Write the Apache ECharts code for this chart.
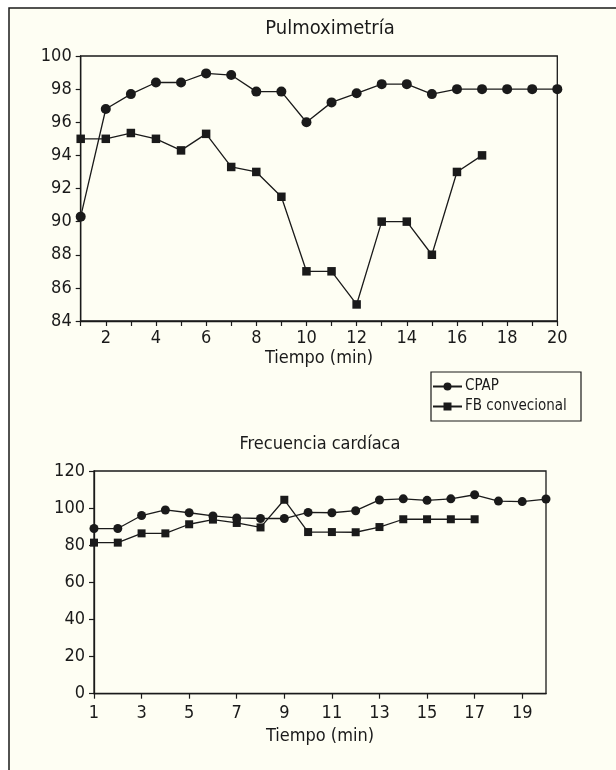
<!DOCTYPE html>
<html>
<head>
<meta charset="utf-8">
<script src="https://cdn.jsdelivr.net/npm/echarts@6/dist/echarts.min.js"></script>
<style>
html,body{margin:0;padding:0;background:#ffffff;}
#chart{width:616px;height:770px;}
</style>
</head>
<body>
<div id="chart"></div>
<script>
// ---- data ----
var minutes = ['1','2','3','4','5','6','7','8','9','10','11','12','13','14','15','16','17','18','19','20'];
var spo2CPAP = [90.3, 96.8, 97.7, 98.4, 98.4, 98.95, 98.85, 97.85, 97.85, 96.0, 97.2, 97.75, 98.3, 98.3, 97.7, 98.0, 98.0, 98.0, 98.0, 98.0];
var spo2FB = [95.0, 95.0, 95.35, 95.0, 94.3, 95.3, 93.3, 93.0, 91.5, 87.0, 87.0, 85.0, 90.0, 90.0, 88.0, 93.0, 94.0, null, null, null];
var hrCPAP = [89, 89, 96, 99, 97.5, 95.8, 94.7, 94.4, 94.4, 97.7, 97.5, 98.6, 104.4, 105, 104.2, 105, 107.2, 103.8, 103.5, 104.9];
var hrFB = [81.4, 81.4, 86.4, 86.4, 91.3, 93.8, 92, 89.6, 104.5, 87.1, 87.1, 87, 89.8, 94, 94, 94, 94, null, null, null];
var seriesNames = ['CPAP', 'FB convecional'];
var titles = ['Pulmoximetría', 'Frecuencia cardíaca'];
var axisName = 'Tiempo (min)';

var FONT = '"Liberation Sans Narrow", "DejaVu Sans Condensed", "Liberation Sans", sans-serif';
var INK = '#1a1a1a';
var BG = '#fefef3';

var chart = echarts.init(document.getElementById('chart'), null, {renderer: 'canvas'});

function xAxisCfg(gridIndex, tickFn, labelFn, labelMargin, nameGap) {
  return {
    type: 'category', gridIndex: gridIndex, data: minutes, boundaryGap: false,
    name: axisName, nameLocation: 'middle', nameGap: nameGap,
    nameTextStyle: {fontFamily: FONT, fontSize: 18, color: INK},
    axisLine: {lineStyle: {color: INK, width: 1.3}},
    axisTick: {show: true, inside: false, length: 5, interval: tickFn, lineStyle: {color: INK, width: 1.2}},
    axisLabel: {interval: labelFn, margin: labelMargin, fontFamily: FONT, fontSize: 18, color: INK},
    splitLine: {show: false}
  };
}
function yAxisCfg(gridIndex, min, max, interval) {
  return {
    type: 'value', gridIndex: gridIndex, min: min, max: max, interval: interval,
    axisLine: {show: true, lineStyle: {color: INK, width: 1.3}},
    axisTick: {show: true, inside: false, length: 5, lineStyle: {color: INK, width: 1.2}},
    axisLabel: {margin: 9, fontFamily: FONT, fontSize: 18, color: INK},
    splitLine: {show: false}
  };
}
function lineSeries(name, data, xi, yi, symbol, size) {
  return {
    name: name, type: 'line', xAxisIndex: xi, yAxisIndex: yi, data: data,
    symbol: symbol, symbolSize: size, connectNulls: false,
    lineStyle: {color: INK, width: 1.3},
    itemStyle: {color: INK, borderWidth: 0},
    emphasis: {disabled: true},
    animation: false, z: 3
  };
}

var option = {
  backgroundColor: '#ffffff',
  animation: false,
  graphic: [
    {type: 'rect', shape: {x: 9, y: 8, width: 640, height: 800}, style: {fill: BG, stroke: INK, lineWidth: 1.5}, z: -10},
    {type: 'rect', shape: {x: 431, y: 372, width: 150, height: 49}, style: {fill: 'none', stroke: INK, lineWidth: 1.2}, z: 5}
  ],
  title: [
    {text: titles[0], left: 330, top: 19, textAlign: 'center',
     textStyle: {fontFamily: FONT, fontSize: 20, fontWeight: 'normal', color: INK}, padding: 0},
    {text: titles[1], left: 320, top: 435, textAlign: 'center',
     textStyle: {fontFamily: FONT, fontSize: 18, fontWeight: 'normal', color: INK}, padding: 0}
  ],
  legend: {
    orient: 'vertical', left: 432, top: 379, itemGap: 5, itemWidth: 29, itemHeight: 10,
    padding: 0, data: seriesNames,
    textStyle: {fontFamily: FONT, fontSize: 15, color: INK, padding: [0, 0, 0, -2]},
    selectedMode: false
  },
  grid: [
    {left: 80.7, width: 476.6, top: 56, height: 265, show: true, borderColor: INK, borderWidth: 1.3, backgroundColor: 'transparent'},
    {left: 94, width: 452, top: 471, height: 222.7, show: true, borderColor: INK, borderWidth: 1.3, backgroundColor: 'transparent'}
  ],
  xAxis: [
    xAxisCfg(0, function () { return true; }, function (i) { return i % 2 === 1; }, 8, 28),
    xAxisCfg(1, function (i) { return i % 2 === 0; }, function (i) { return i % 2 === 0; }, 11, 34)
  ],
  yAxis: [
    yAxisCfg(0, 84, 100, 2),
    yAxisCfg(1, 0, 120, 20)
  ],
  series: [
    lineSeries(seriesNames[0], spo2CPAP, 0, 0, 'circle', 10),
    lineSeries(seriesNames[1], spo2FB, 0, 0, 'rect', 8.5),
    lineSeries(seriesNames[0], hrCPAP, 1, 1, 'circle', 9),
    lineSeries(seriesNames[1], hrFB, 1, 1, 'rect', 8)
  ]
};
chart.setOption(option);
</script>
</body>
</html>
